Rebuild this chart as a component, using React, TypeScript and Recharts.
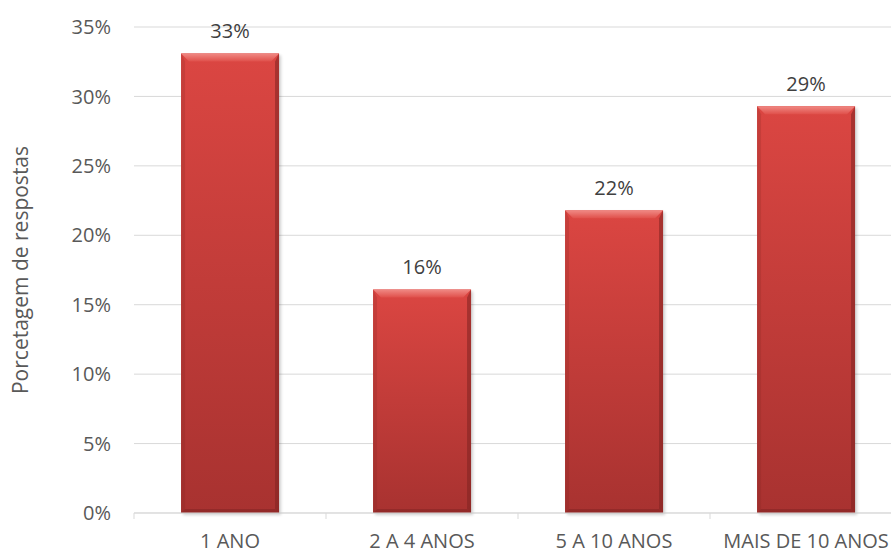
import React from "react";
import {
  BarChart,
  Bar,
  XAxis,
  YAxis,
  CartesianGrid,
  LabelList,
  Label,
} from "recharts";

const categories = ["1 ANO", "2 A 4 ANOS", "5 A 10 ANOS", "MAIS DE 10 ANOS"];
const shares = [33.1, 16.1, 21.8, 29.3];
const shareLabels = ["33%", "16%", "22%", "29%"];
const yTicks = [0, 5, 10, 15, 20, 25, 30, 35];

const data = categories.map((name, i) => ({
  name,
  value: shares[i],
  label: shareLabels[i],
}));

const FONT = "'Open Sans', Lato, sans-serif";

function BevelBar(props: any) {
  const { x, y, width, height } = props;
  if (!height || height <= 0) return null;
  const b = 8;
  const e = 4;
  return (
    <g>
      <rect
        x={x + 2}
        y={y + 2}
        width={width}
        height={height}
        fill="#000"
        opacity={0.18}
        filter="url(#barShadow)"
      />
      <rect x={x} y={y} width={width} height={height} fill="url(#barBody)" />
      <polygon
        points={`${x},${y} ${x + width},${y} ${x + width - b},${y + b} ${x + b},${y + b}`}
        fill="url(#barTop)"
      />
      <polygon
        points={`${x + width},${y} ${x + width},${y + height} ${x + width - e},${y + height - e} ${x + width - e},${y + b}`}
        fill="#7d2220"
        opacity={0.55}
      />
      <polygon
        points={`${x},${y} ${x + e},${y + b} ${x + e},${y + height - e} ${x},${y + height}`}
        fill="#7d2220"
        opacity={0.2}
      />
      <polygon
        points={`${x},${y + height} ${x + width},${y + height} ${x + width - e},${y + height - e} ${x + e},${y + height - e}`}
        fill="#6e1d1c"
        opacity={0.35}
      />
    </g>
  );
}

function CategoryTick(props: any) {
  const { x, y, payload, index } = props;
  const half = payload.offset || 0;
  const last = index === categories.length - 1;
  return (
    <g>
      <line x1={x - half} x2={x - half} y1={y} y2={y + 6} stroke="#d9d9d9" />
      {last && (
        <line x1={x + half} x2={x + half} y1={y} y2={y + 6} stroke="#d9d9d9" />
      )}
      <text
        x={x}
        y={y + 35}
        textAnchor="middle"
        fill="#595959"
        fontSize={20}
        fontFamily={FONT}
      >
        {payload.value}
      </text>
    </g>
  );
}

export default function App() {
  return (
    <div
      style={{
        position: "absolute",
        left: 0,
        top: 0,
        width: 891,
        height: 551,
        overflow: "hidden",
        background: "#fff",
      }}
    >
      <BarChart
        width={910}
        height={551}
        data={data}
        margin={{ top: 27, right: 8, bottom: 0, left: 0 }}
        barCategoryGap="24.5%"
      >
        <defs>
          <linearGradient id="barBody" x1="0" y1="0" x2="0" y2="1">
            <stop offset="0%" stopColor="#db4642" />
            <stop offset="100%" stopColor="#a83230" />
          </linearGradient>
          <linearGradient id="barTop" x1="0" y1="0" x2="0" y2="1">
            <stop offset="0%" stopColor="#f08a85" />
            <stop offset="100%" stopColor="#e0504b" />
          </linearGradient>
          <filter id="barShadow" x="-20%" y="-20%" width="140%" height="140%">
            <feGaussianBlur stdDeviation="1.5" />
          </filter>
        </defs>
        <CartesianGrid vertical={false} stroke="#d9d9d9" />
        <XAxis
          dataKey="name"
          height={38}
          axisLine={{ stroke: "#d9d9d9" }}
          tickLine={false}
          tickSize={0}
          tickMargin={0}
          interval={0}
          tick={<CategoryTick />}
        />
        <YAxis
          width={134}
          domain={[0, 35]}
          ticks={yTicks}
          interval={0}
          axisLine={false}
          tickLine={false}
          tickSize={21}
          tickMargin={2}
          tickFormatter={(v: number) => `${v}%`}
          tick={{ fill: "#595959", fontSize: 20, fontFamily: FONT }}
        >
          <Label
            content={({ viewBox }: any) => {
              const cx = 20;
              const cy = viewBox.y + viewBox.height / 2;
              return (
                <text
                  x={cx}
                  y={cy}
                  transform={`rotate(-90 ${cx} ${cy})`}
                  textAnchor="middle"
                  dominantBaseline="central"
                  fill="#595959"
                  fontSize={21}
                  fontFamily={FONT}
                >
                  Porcetagem de respostas
                </text>
              );
            }}
          />
        </YAxis>
        <Bar dataKey="value" shape={<BevelBar />} isAnimationActive={false}>
          <LabelList
            dataKey="label"
            position="top"
            offset={15}
            fill="#404040"
            fontSize={20}
            fontFamily={FONT}
          />
        </Bar>
      </BarChart>
    </div>
  );
}
